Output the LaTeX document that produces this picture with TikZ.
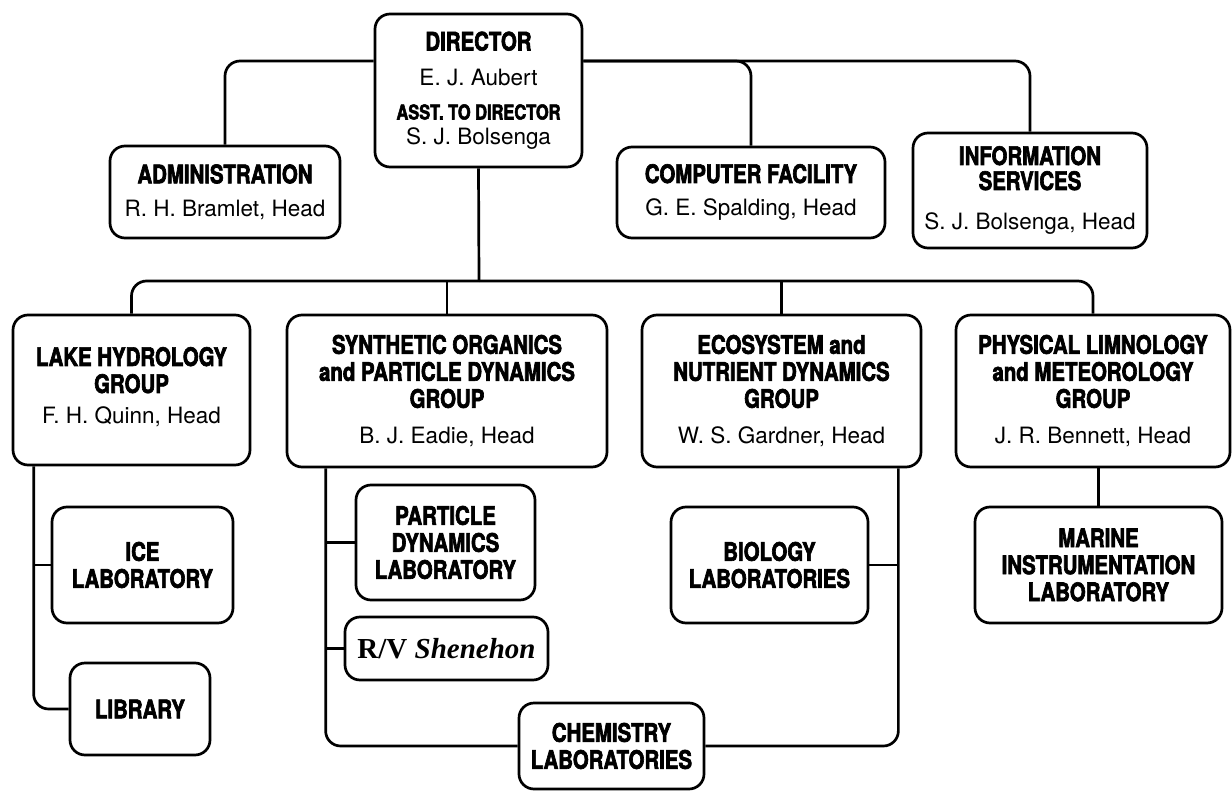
\documentclass[tikz,border=0pt]{standalone}
\usepackage{fontspec}
\setmainfont{TeX Gyre Heros}
\newfontfamily\headfont[FakeStretch=0.8,FakeBold=2.5]{TeX Gyre Heros}
\newfontfamily\shipfont{Liberation Serif}
\newcommand{\ttl}{\headfont\bfseries\fontsize{25.5}{27}\selectfont}
\newcommand{\nm}{\normalfont\fontsize{22.5}{27}\selectfont}

\begin{document}
\begin{tikzpicture}[
		x=1pt, y=-1pt,
		unit/.style = {rectangle, draw, fill=white, line width=2.7pt, rounded corners=15pt,
			align=center, inner sep=0pt, font=\ttl},
		r/.style = {line width=2.7pt, rounded corners=15pt},
		l/.style = {line width=2.7pt}
		]
		\useasboundingbox (0,0) rectangle (1232,792);
		
		%Nodes
		\node[unit, minimum width=207, minimum height=153] (dir)    at (478.5,90.5)  {DIRECTOR\\[8pt]{\nm E. J. Aubert}\\[7pt]{\fontsize{20.5}{27}\selectfont ASST. TO DIRECTOR}\\[-2pt]{\nm S. J. Bolsenga}};
		\node[unit, minimum width=230, minimum height=92]  (admin)  at (225,192)     {ADMINISTRATION\\[6pt]{\nm R. H. Bramlet, Head}};
		\node[unit, minimum width=268, minimum height=91]  (comp)   at (751,192.5)   {COMPUTER FACILITY\\[6pt]{\nm G. E. Spalding, Head}};
		\node[unit, minimum width=234, minimum height=115] (info)   at (1030,190.5)  {INFORMATION\\[-2pt]SERVICES\\[13pt]{\nm S. J. Bolsenga, Head}};
		
		\node[unit, minimum width=237, minimum height=150] (lake)   at (131.5,390)   {LAKE HYDROLOGY\\GROUP\\[4pt]{\nm F. H. Quinn, Head}\\[-18pt]~};
		\node[unit, minimum width=320, minimum height=152] (synth)  at (447,391)     {SYNTHETIC ORGANICS\\and PARTICLE DYNAMICS\\GROUP\\[9pt]{\nm B. J. Eadie, Head}};
		\node[unit, minimum width=279, minimum height=152] (eco)    at (781.5,391)   {ECOSYSTEM and\\NUTRIENT DYNAMICS\\GROUP\\[9pt]{\nm W. S. Gardner, Head}};
		\node[unit, minimum width=274, minimum height=152] (phys)   at (1093,391)    {PHYSICAL LIMNOLOGY\\and METEOROLOGY\\GROUP\\[9pt]{\nm J. R. Bennett, Head}};
		
		\node[unit, minimum width=181, minimum height=116] (ice)    at (142.5,565)   {ICE\\LABORATORY};
		\node[unit, minimum width=140, minimum height=92]  (lib)    at (140,709)     {LIBRARY};
		\node[unit, minimum width=179, minimum height=115] (part)   at (445.5,542.5) {PARTICLE\\DYNAMICS\\LABORATORY};
		\node[unit, minimum width=203, minimum height=63]  (ship)   at (446.5,648.5) {\shipfont\fontsize{29}{30}\selectfont R/V \itshape Shenehon};
		\node[unit, minimum width=185, minimum height=86]  (chem)   at (611.5,746)   {CHEMISTRY\\LABORATORIES};
		\node[unit, minimum width=197, minimum height=116] (bio)    at (769.5,565)   {BIOLOGY\\LABORATORIES};
		\node[unit, minimum width=247, minimum height=116] (marine) at (1098.5,565)  {MARINE\\INSTRUMENTATION\\LABORATORY};
		
		\coordinate (top) at (479,61);
		\coordinate (mid) at (479,281);
		\coordinate (lk)  at ([xshift=22pt]lake.south west);
		\coordinate (sy)  at ([xshift=40pt]synth.south west);
		\coordinate (ey)  at ([xshift=-24pt]eco.south east);
		
		%Lines
		\draw[r] (dir.west |- top) -| (admin.north);
		\draw[r] (dir.east |- top) -| (comp.north);
		\draw[r] (dir.east |- top) -| (info.north);
		\draw[l] (dir.south) -- (mid);
		\draw[r] (mid) -| (lake.north);
		\draw[r] (mid) -| (phys.north);
		\draw[l] (synth.north |- mid) -- (synth.north);
		\draw[l] (eco.north |- mid)   -- (eco.north);
		
		\draw[r] (lk) |- (lib.west);
		\draw[l] (ice.west) -- (ice.west -| lk);
		\draw[r] (sy) |- (chem.west);
		\draw[l] (part.west) -- (part.west -| sy);
		\draw[l] (ship.west) -- (ship.west -| sy);
		\draw[r] (ey) |- (chem.east);
		\draw[l] (bio.east) -- (bio.east -| ey);
		\draw[l] (phys.south -| marine.north) -- (marine.north);
		
	\end{tikzpicture}
\end{document}
